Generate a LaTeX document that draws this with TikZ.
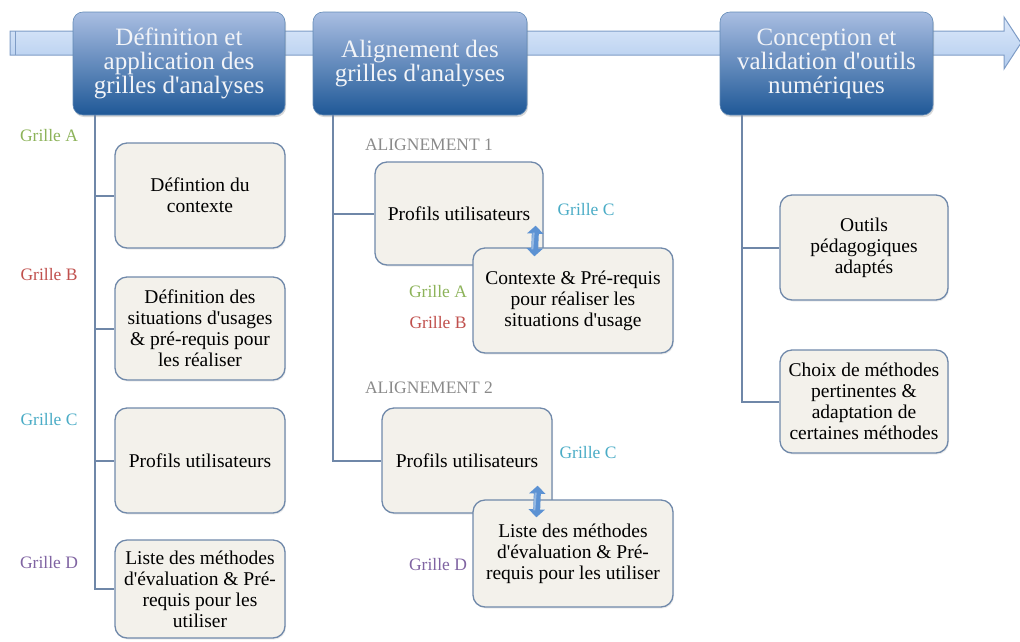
\documentclass[tikz,border=0pt]{standalone}
\usepackage{fontspec}
\setmainfont{Liberation Serif}
\usetikzlibrary{shadows,arrows.meta}
\definecolor{bandtop}{HTML}{DDE9FA}
\definecolor{bandbot}{HTML}{B2CCEE}
\definecolor{bandline}{HTML}{7E9CC6}
\definecolor{headtop}{HTML}{A9BEE2}
\definecolor{headbot}{HTML}{1F5897}
\definecolor{headtext}{HTML}{F2F4F8}
\definecolor{boxfill}{HTML}{F3F1EB}
\definecolor{boxline}{HTML}{7089AA}
\definecolor{stemcol}{HTML}{6F87A8}
\definecolor{gA}{HTML}{8DB35A}
\definecolor{gB}{HTML}{C0504D}
\definecolor{gC}{HTML}{4BACC6}
\definecolor{gD}{HTML}{8064A2}
\definecolor{aligncol}{HTML}{8A8A8A}
\definecolor{dblcol}{HTML}{5C92D3}
\newcommand\ap{\textquotesingle}
\begin{document}
\begin{tikzpicture}[x=1pt,y=-1pt,
  header/.style={rectangle, rounded corners=10pt, top color=headtop, bottom color=headbot,
    draw=headbot!70!white, line width=0.6pt, align=center, text=headtext,
    font=\fontsize{25}{24}\selectfont, inner sep=0pt,
    drop shadow={shadow xshift=1pt, shadow yshift=-2pt, opacity=0.3}},
  stepbox/.style={rectangle, rounded corners=12pt, fill=boxfill, draw=boxline, line width=1.3pt,
    align=center, font=\fontsize{19.5}{21}\selectfont, inner sep=0pt,
    drop shadow={shadow xshift=1pt, shadow yshift=-1.5pt, opacity=0.15}},
  stem/.style={draw=stemcol, line width=2pt},
  grille/.style={font=\fontsize{17.5}{20}\selectfont, inner sep=0pt},
  aligntxt/.style={font=\fontsize{17.5}{20}\selectfont, inner sep=0pt, text=aligncol},
  dblarrow/.style={draw=dblcol, line width=7pt, {Triangle[length=8pt,width=16pt]}-{Triangle[length=8pt,width=16pt]}},
  dblshine/.style={draw=white, draw opacity=0.35, line width=2pt},
]
\useasboundingbox (0,0) rectangle (1020,641);

% timeline band
\draw[top color=bandtop, bottom color=bandbot, draw=bandline, line width=1pt]
  (10,31) -- (1004,31) -- (1004,17) -- (1021,43) -- (1004,69) -- (1004,55) -- (10,55) -- cycle;
\draw[bandline, line width=1pt] (15,31) -- (15,55);

% header boxes
\node[header, minimum width=212, minimum height=103] (h1) at (179,63.5) {Définition et\\application des\\grilles d\ap analyses};
\node[header, minimum width=214, minimum height=103] (h2) at (420,63.5) {Alignement des\\grilles d\ap analyses};
\node[header, minimum width=213, minimum height=103] (h3) at (826.5,63.5) {Conception et\\validation d\ap outils\\numériques};

% column 1
\node[stepbox, minimum width=170, minimum height=105] (bA) at (200,195.5) {Défintion du\\contexte};
\node[stepbox, minimum width=170, minimum height=103] (bB) at (200,328.5) {Définition des\\situations d\ap usages\\\& pré-requis pour\\les réaliser};
\node[stepbox, minimum width=170, minimum height=105] (bC) at (200,460.5) {Profils utilisateurs};
\node[stepbox, minimum width=170, minimum height=98] (bD) at (200,589) {Liste des méthodes\\d\ap évaluation \& Pré-\\requis pour les\\utiliser};

\draw[stem] ([xshift=22pt]h1.south west) |- (bA.west);
\draw[stem] ([xshift=22pt]h1.south west) |- (bB.west);
\draw[stem] ([xshift=22pt]h1.south west) |- (bC.west);
\draw[stem] ([xshift=22pt]h1.south west) |- (bD.west);

\node[grille, text=gA] (lA) at (49,136) {Grille A};
\node[grille, text=gB] (lB) at (49,275) {Grille B};
\node[grille, text=gC] (lC) at (49,420) {Grille C};
\node[grille, text=gD] (lD) at (49,563) {Grille D};

% column 2
\node[aligntxt] (al1) at (429,145) {ALIGNEMENT 1};
\node[stepbox, minimum width=168, minimum height=103] (a1p) at (459,213.5) {Profils utilisateurs};
\node[stepbox, minimum width=200, minimum height=105] (a1c) at (573,300.5) {Contexte \& Pré-requis\\pour réaliser les\\situations d\ap usage};
\draw[dblarrow] ([xshift=-8pt,yshift=40pt]a1p.south east) -- ([xshift=62pt,yshift=-9pt]a1c.north west);
\draw[dblshine] ([xshift=-10pt,yshift=33pt]a1p.south east) -- ([xshift=60pt,yshift=-2pt]a1c.north west);
\node[grille, text=gC] (l1C) at (586,210) {Grille C};
\node[grille, text=gA] (l1A) at (438,292) {Grille A};
\node[grille, text=gB] (l1B) at (438,323) {Grille B};

\node[aligntxt] (al2) at (429,388) {ALIGNEMENT 2};
\node[stepbox, minimum width=170, minimum height=105] (a2p) at (467,460.5) {Profils utilisateurs};
\node[stepbox, minimum width=200, minimum height=107] (a2l) at (573,553.5) {Liste des méthodes\\d\ap évaluation \& Pré-\\requis pour les utiliser};
\draw[dblarrow] ([xshift=-15pt,yshift=28pt]a2p.south east) -- ([xshift=64pt,yshift=-18pt]a2l.north west);
\draw[dblshine] ([xshift=-17pt,yshift=21pt]a2p.south east) -- ([xshift=62pt,yshift=-11pt]a2l.north west);
\node[grille, text=gC] (l2C) at (588,453) {Grille C};
\node[grille, text=gD] (l2D) at (438,565) {Grille D};

\draw[stem] ([xshift=20pt]h2.south west) |- (a1p.west);
\draw[stem] ([xshift=20pt]h2.south west) |- (a2p.west);

% column 3
\node[stepbox, minimum width=168, minimum height=105] (oo) at (864,247.5) {Outils\\pédagogiques\\adaptés};
\node[stepbox, minimum width=168, minimum height=103] (ch) at (864,401.5) {Choix de méthodes\\pertinentes \&\\adaptation de\\certaines méthodes};
\draw[stem] ([xshift=22pt]h3.south west) |- (oo.west);
\draw[stem] ([xshift=22pt]h3.south west) |- (ch.west);
\end{tikzpicture}
\end{document}
